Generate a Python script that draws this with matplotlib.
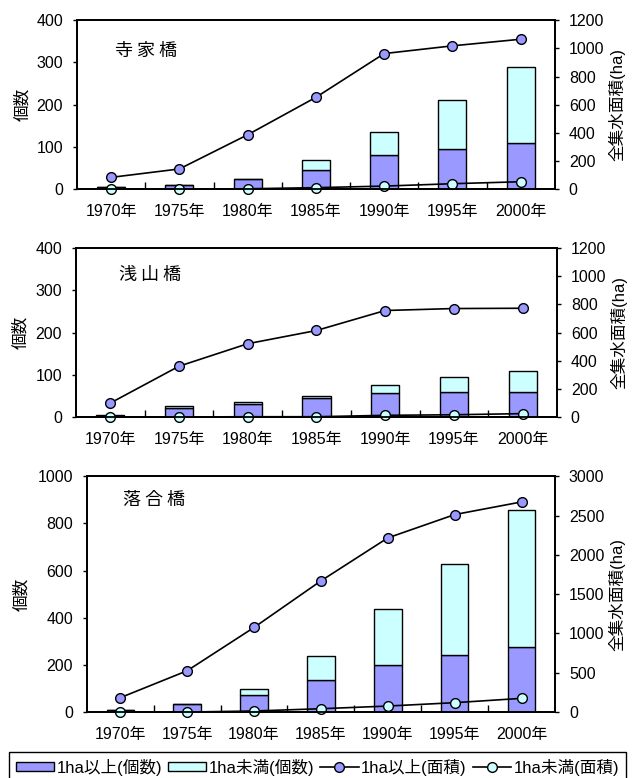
import matplotlib
matplotlib.use('Agg')
import matplotlib.pyplot as plt
from matplotlib.patches import Patch
from matplotlib.lines import Line2D

plt.rcParams['font.family'] = ['Liberation Sans', 'Noto Sans CJK JP']

years = ['1970年', '1975年', '1980年', '1985年', '1990年', '1995年', '2000年']

# 寺家橋
jike_cnt_large = [4, 9, 25, 45, 80, 96, 108]
jike_cnt_small = [0, 0, 0, 25, 55, 116, 181]
jike_area_large = [83, 143, 386, 652, 963, 1018, 1065]
jike_area_small = [0, 0, 2, 10, 21, 38, 52]

# 浅山橋
asa_cnt_large = [3, 22, 32, 44, 57, 60, 60]
asa_cnt_small = [1, 3, 4, 6, 20, 34, 48]
asa_area_large = [99, 361, 521, 615, 757, 771, 773]
asa_area_small = [0, 0, 2, 2, 12, 16, 24]

# 落合橋
ochi_cnt_large = [8, 33, 73, 136, 199, 240, 277]
ochi_cnt_small = [0, 2, 26, 101, 236, 386, 582]
ochi_area_large = [182, 525, 1076, 1669, 2216, 2513, 2674]
ochi_area_small = [0, 0, 13, 42, 76, 119, 174]

c_large = '#9999FF'
c_small = '#CCFFFF'

fig = plt.figure(figsize=(6.38, 7.78), dpi=100)

panels = [
    # name, counts(large, small), areas(large, small), left max/step, right max/step,
    # axes rect, title pos, left/right label x
    ('寺 家 橋', jike_cnt_large, jike_cnt_small, jike_area_large, jike_area_small,
     (400, 100), (1200, 200), [0.1207, 0.757, 0.749, 0.217], (0.08, 0.82), -0.098, 1.113),
    ('浅 山 橋', asa_cnt_large, asa_cnt_small, asa_area_large, asa_area_small,
     (400, 100), (1200, 200), [0.119, 0.464, 0.754, 0.217], (0.09, 0.84), -0.100, 1.112),
    ('落 合 橋', ochi_cnt_large, ochi_cnt_small, ochi_area_large, ochi_area_small,
     (1000, 200), (3000, 500), [0.136, 0.0848, 0.734, 0.303], (0.077, 0.90), -0.122, 1.113),
]

x = list(range(len(years)))
for name, cl, cs, al, asm, lax, rax, rect, tpos, ylx, yrx in panels:
    ax = fig.add_axes(rect)
    ax.bar(x, cl, width=0.41, color=c_large, edgecolor='black', linewidth=1.0, zorder=2)
    ax.bar(x, cs, width=0.41, bottom=cl, color=c_small, edgecolor='black', linewidth=1.0, zorder=2)
    ax.set_xlim(-0.5, len(years) - 0.5)
    ax.set_ylim(0, lax[0])
    ax.set_yticks(range(0, lax[0] + 1, lax[1]))
    ax.set_xticks(x)
    ax.set_xticklabels(years)
    ax.set_xticks([i + 0.5 for i in x[:-1]], minor=True)
    ax.tick_params(axis='x', which='major', length=0, pad=11, labelsize=11.5)
    ax.tick_params(axis='x', which='minor', direction='in', length=5, width=1)
    ax.tick_params(axis='y', direction='out', length=3, width=1, pad=7, labelsize=11.5)
    ax.set_ylabel('個数', fontsize=12)
    ax.yaxis.set_label_coords(ylx, 0.5)
    for s in ax.spines.values():
        s.set_linewidth(1.3)
    ax.text(tpos[0], tpos[1], name, transform=ax.transAxes, fontsize=13,
            family=['Noto Sans CJK JP', 'DejaVu Sans'], va='center', ha='left')

    ax2 = ax.twinx()
    ax2.plot(x, al, color='black', linewidth=1.2, marker='o', markersize=7,
             markerfacecolor=c_large, markeredgecolor='black', markeredgewidth=1.0, clip_on=False)
    ax2.plot(x, asm, color='black', linewidth=1.2, marker='o', markersize=7,
             markerfacecolor=c_small, markeredgecolor='black', markeredgewidth=1.0, clip_on=False)
    ax2.set_ylim(0, rax[0])
    ax2.set_yticks(range(0, rax[0] + 1, rax[1]))
    ax2.tick_params(axis='y', direction='out', length=3, width=1, pad=7, labelsize=11.5)
    ax2.set_ylabel('全集水面積(ha)', fontsize=12)
    ax2.yaxis.set_label_coords(yrx, 0.5)
    for s in ax2.spines.values():
        s.set_linewidth(1.3)

handles = [
    Patch(facecolor=c_large, edgecolor='black', linewidth=1.0),
    Patch(facecolor=c_small, edgecolor='black', linewidth=1.0),
    Line2D([], [], color='black', linewidth=1.2, marker='o', markersize=7,
           markerfacecolor=c_large, markeredgecolor='black'),
    Line2D([], [], color='black', linewidth=1.2, marker='o', markersize=7,
           markerfacecolor=c_small, markeredgecolor='black'),
]
labels = ['1ha以上(個数)', '1ha未満(個数)', '1ha以上(面積)', '1ha未満(面積)']
leg = fig.legend(handles, labels, loc='upper left', ncol=4,
                 bbox_to_anchor=(9 / 638, 1 - 752 / 778), fontsize=12,
                 handlelength=2.3, handleheight=0.45, handletextpad=0.15, columnspacing=0.35,
                 borderaxespad=0, borderpad=0.4, fancybox=False, framealpha=1)
leg.get_frame().set_edgecolor('black')
leg.get_frame().set_linewidth(1.0)

fig.savefig('out.png', dpi=100)
